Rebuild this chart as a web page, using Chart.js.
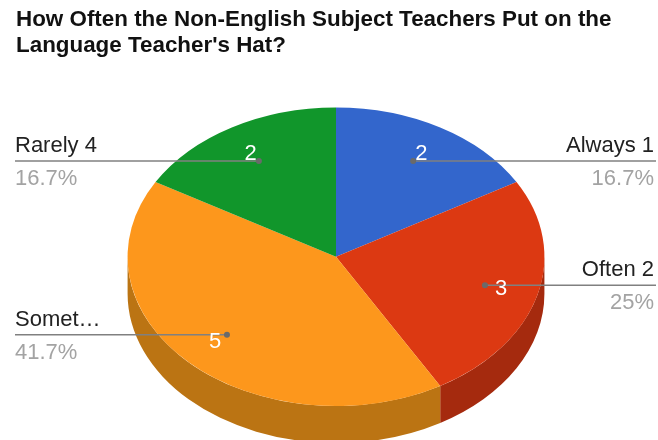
<!DOCTYPE html>
<html>
<head>
<meta charset="utf-8">
<title>Pie chart</title>
<script src="https://cdn.jsdelivr.net/npm/chart.js@4/dist/chart.umd.min.js"></script>
<style>
    html, body { margin: 0; padding: 0; background: #fff; }
    canvas { display: block; }
</style>
</head>
<body>
<canvas id="graficoPie" width="658" height="440"></canvas>
<script>
var titulo = ["How Often the Non-English Subject Teachers Put on the", "Language Teacher's Hat?"];
var categorias = ['Always 1', 'Often 2', 'Somet\u2026', 'Rarely 4'];
var valores = [2, 3, 5, 2];
var porcentajes = ['16.7%', '25%', '41.7%', '16.7%'];
var colores = ['#3366cc', '#dc3912', '#fd971c', '#11962b'];
var coloresLado = ['#24478f', '#a52a0e', '#bb7413', '#0c691e'];

var fuente = '"Liberation Sans", Arial, sans-serif';
var estiramiento = 208 / 149; // the round pie is widened into an ellipse
var profundidad = 37;         // height of the side wall

// widen everything drawn by the dataset around the pie center
function aplicarEstiramiento(chart, ctx) {
    var cx = (chart.chartArea.left + chart.chartArea.right) / 2;
    ctx.translate(cx, 0);
    ctx.scale(estiramiento, 1);
    ctx.translate(-cx, 0);
}

var pastel3d = {
    id: 'pastel3d',
    beforeDatasetsDraw: function (chart) {
        var ctx = chart.ctx;
        var arcos = chart.getDatasetMeta(0).data;
        ctx.save();
        aplicarEstiramiento(chart, ctx);
        // side wall: only the lower half of the rim (angles 0 to PI) can be seen
        arcos.forEach(function (arco, i) {
            var ini = Math.max(arco.startAngle, 0);
            var fin = Math.min(arco.endAngle, Math.PI);
            if (fin <= ini) return;
            ctx.fillStyle = coloresLado[i];
            ctx.beginPath();
            ctx.arc(arco.x, arco.y, arco.outerRadius, ini, fin);
            ctx.arc(arco.x, arco.y + profundidad, arco.outerRadius, fin, ini, true);
            ctx.closePath();
            ctx.fill();
        });
    },
    afterDatasetsDraw: function (chart) {
        chart.ctx.restore();
    },
    afterDraw: function (chart) {
        var ctx = chart.ctx;
        var arcos = chart.getDatasetMeta(0).data;
        arcos.forEach(function (arco, i) {
            var medio = (arco.startAngle + arco.endAngle) / 2;
            var r = arco.outerRadius;
            var cx = arco.x;
            var cy = arco.y;
            var ax = cx + Math.cos(medio) * r * 0.74 * estiramiento;
            var ay = cy + Math.sin(medio) * r * 0.74;
            var derecha = ax > cx;
            var borde = derecha ? 656 : 15;

            // leader line with its end dot
            ctx.strokeStyle = '#808080';
            ctx.lineWidth = 1.5;
            ctx.beginPath();
            ctx.moveTo(borde, ay);
            ctx.lineTo(ax, ay);
            ctx.stroke();
            ctx.fillStyle = '#6a6a6a';
            ctx.beginPath();
            ctx.arc(ax, ay, 3, 0, Math.PI * 2);
            ctx.fill();

            // category above the line, percentage below it
            ctx.font = '22px ' + fuente;
            ctx.textAlign = derecha ? 'right' : 'left';
            ctx.textBaseline = 'alphabetic';
            ctx.fillStyle = '#222222';
            ctx.fillText(categorias[i], derecha ? 654 : 15, ay - 9);
            ctx.fillStyle = '#a3a3a3';
            ctx.fillText(porcentajes[i], derecha ? 654 : 15, ay + 24);

            // slice value
            ctx.font = '22px ' + fuente;
            ctx.textAlign = 'center';
            ctx.textBaseline = 'middle';
            ctx.fillStyle = '#ffffff';
            ctx.fillText(String(valores[i]),
                cx + Math.cos(medio) * r * 0.82 * estiramiento,
                cy + Math.sin(medio) * r * 0.8 + 1);
        });
    }
};

var ctxPie = document.getElementById('graficoPie').getContext('2d');
new Chart(ctxPie, {
    type: 'pie',
    data: {
        labels: categorias,
        datasets: [{
            data: valores,
            backgroundColor: colores,
            borderWidth: 0,
            hoverOffset: 0
        }]
    },
    options: {
        responsive: false,
        animation: false,
        layout: { padding: { top: 0, left: 16, right: 2, bottom: 34 } },
        plugins: {
            legend: { display: false },
            tooltip: { enabled: false },
            title: {
                display: true,
                text: titulo,
                align: 'start',
                color: '#111111',
                font: { family: fuente, size: 22.4, weight: 'bold', lineHeight: 1.17 },
                padding: { top: 7, bottom: 48 }
            }
        }
    },
    plugins: [pastel3d]
});
</script>
</body>
</html>
